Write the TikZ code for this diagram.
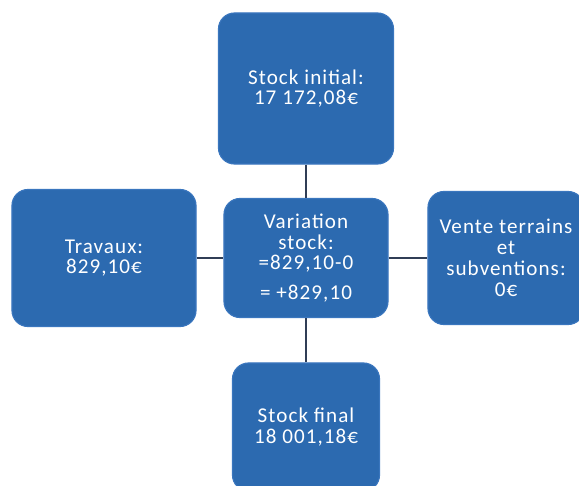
\documentclass[tikz,border=0pt]{standalone}
\usepackage{fontspec}
\setmainfont{Carlito}[LetterSpace=5]
\usepackage{xcolor}
\definecolor{blocbleu}{RGB}{44,106,176}
\definecolor{blocbord}{RGB}{58,118,190}
\definecolor{lien}{RGB}{48,62,86}

\begin{document}
\begin{tikzpicture}[x=0.025cm, y=-0.025cm,
    bloc/.style={rectangle, rounded corners=0.4cm, draw=blocbord, fill=blocbleu, thick,
                 text=white, align=center, font=\fontsize{15}{14.8}\selectfont, inner sep=2pt}]
            \useasboundingbox (0,0) rectangle (579,486);
            \node[bloc, minimum width=4.375cm, minimum height=3.775cm] (init) at (306, 88.5) {Stock initial:\\17 172,08€};
            \node[bloc, minimum width=4.6cm, minimum height=3.425cm] (trav) at (104, 258) {Travaux:\\829,10€};
            \node[bloc, minimum width=4.1cm, minimum height=2.975cm] (var) at (306, 258) {Variation\\stock:\\=829,10-0\\[0.22cm]= +829,10};
            \node[bloc, minimum width=3.9cm, minimum height=3.325cm] (vente) at (506, 258) {Vente terrains\\et\\subventions:\\0€};
            \node[bloc, minimum width=3.675cm, minimum height=3.2cm] (final) at (306, 427) {Stock final\\18 001,18€};
            \draw[thick, lien] (init) -- (var);
            \draw[thick, lien] (trav) -- (var);
            \draw[thick, lien] (var) -- (vente);
            \draw[thick, lien] (var) -- (final);
        \end{tikzpicture}
\end{document}
